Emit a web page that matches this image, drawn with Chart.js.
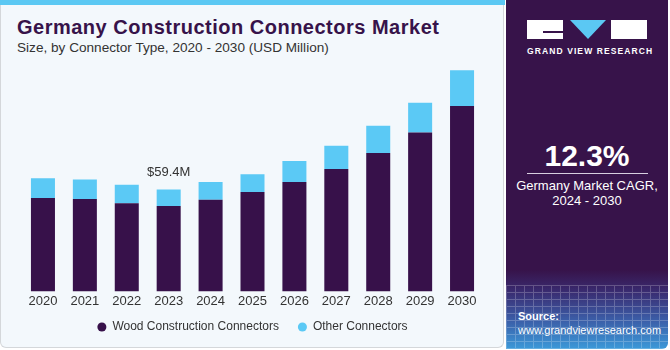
<!DOCTYPE html>
<html>
<head>
<meta charset="utf-8">
<script src="https://cdn.jsdelivr.net/npm/chart.js@4.4.0/dist/chart.umd.min.js"></script>
<style>
  body { margin: 0; width: 670px; height: 350px; background: #ffffff; font-family: "Liberation Sans", Arial, sans-serif; overflow: hidden; }
  #card { position: absolute; left: 0; top: 0; width: 504px; height: 348px; background: #f3f8fc; border: 1px solid #d4d7da; border-top: none; border-radius: 0 0 6px 6px; box-sizing: border-box; }
  #strip { position: absolute; left: 0; top: 0; width: 505px; height: 5px; background: #5bc8f3; }
  #title { position: absolute; left: 17px; top: 16px; font-size: 20px; letter-spacing: 0.5px; font-weight: bold; color: #37134a; white-space: nowrap; }
  #sub { position: absolute; left: 17px; top: 40px; font-size: 13.6px; color: #333; white-space: nowrap; }
  #wrap { position: absolute; left: 0; top: 20px; width: 500px; height: 340px; }
  #panel { position: absolute; left: 506px; top: 0; width: 162px; height: 349px; border-radius: 0 0 6px 0;
    background: linear-gradient(to bottom, #37134a 0px, #37134a 270px, #3a2a6e 290px, #3c5ea8 320px, #3d9ad9 349px); overflow: hidden; }
  #grid { position: absolute; left: 0; top: 285px; width: 162px; height: 64px; opacity: 0.22;
    background-image: linear-gradient(to right, #ffffff 1px, transparent 1px), linear-gradient(to bottom, #ffffff 1px, transparent 1px);
    background-size: 9px 7px; }
  .box { position: absolute; top: 20px; height: 19px; background: #ffffff; }
  #tri { position: absolute; left: 64px; top: 20px; width: 0; height: 0; border-left: 18px solid transparent; border-right: 18px solid transparent; border-top: 19px solid #5bc8f3; }
  #gvr { position: absolute; left: 21px; top: 46px; width: 120px; text-align: center; font-size: 8.5px; font-weight: bold; color: #fff; letter-spacing: 1.1px; white-space: nowrap; }
  #cagr { position: absolute; left: 0; top: 139px; width: 162px; text-align: center; font-size: 30px; font-weight: bold; color: #fff; }
  #line { position: absolute; left: 21px; top: 173px; width: 121px; height: 1px; background: #d8cfe0; }
  #cagrtxt { position: absolute; left: 0; top: 178px; width: 162px; text-align: center; font-size: 13px; color: #fff; line-height: 15px; }
  #src { position: absolute; left: 12px; top: 309px; font-size: 11px; color: #fff; line-height: 14px; }
</style>
</head>
<body>
<div id="card"></div>
<div id="strip"></div>
<div id="title">Germany Construction Connectors Market</div>
<div id="sub">Size, by Connector Type, 2020 - 2030 (USD Million)</div>
<div id="wrap"><canvas id="grafico"></canvas></div>
<div id="panel">
  <div class="box" style="left:21px;width:36px;"><div style="position:absolute;left:16px;top:11px;width:20px;height:2px;background:#37134a;"></div></div>
  <div id="tri"></div>
  <div class="box" style="left:105px;width:36px;"></div>
  <div id="gvr">GRAND VIEW RESEARCH</div>
  <div id="cagr">12.3%</div>
  <div id="line"></div>
  <div id="cagrtxt">Germany Market CAGR,<br>2024 - 2030</div>
  <div id="grid"></div>
  <div id="src"><b>Source:</b><br>www.grandviewresearch.com</div>
</div>
<script>
const years = ["2020", "2021", "2022", "2023", "2024", "2025", "2026", "2027", "2028", "2029", "2030"];
const wood = [54.4, 53.8, 51.3, 49.8, 53.4, 57.9, 63.7, 71.4, 80.6, 92.6, 108.0];
const other = [11.6, 11.4, 10.8, 9.6, 10.3, 10.4, 12.3, 13.5, 15.9, 17.4, 20.9];
const etiqueta = "$59.4M";
const idxEtiqueta = 3;

// etiqueta encima de la barra 2023
const etiquetaPlugin = {
  id: "etiqueta",
  afterLayout(chart) {
    // subir la leyenda un poco
    chart.legend.top -= 9;
    chart.legend.bottom -= 9;
  },
  afterDatasetsDraw(chart) {
    const meta = chart.getDatasetMeta(1);
    const bar = meta.data[idxEtiqueta];
    const ctx = chart.ctx;
    ctx.save();
    ctx.font = "13px 'Liberation Sans', Arial, sans-serif";
    ctx.fillStyle = "#333333";
    ctx.textAlign = "center";
    ctx.textBaseline = "middle";
    ctx.fillText(etiqueta, bar.x, bar.y - 17);
    ctx.restore();
  }
};

const ctx = document.getElementById("grafico").getContext("2d");
new Chart(ctx, {
  type: "bar",
  data: {
    labels: years,
    datasets: [
      { label: "Wood Construction Connectors", data: wood, backgroundColor: "#37114a" },
      { label: "Other Connectors", data: other, backgroundColor: "#5bc9f5" }
    ]
  },
  options: {
    responsive: true,
    maintainAspectRatio: false,
    animation: false,
    layout: { padding: { left: 22, right: 17, top: 14, bottom: 8 } },
    datasets: { bar: { barPercentage: 0.573, categoryPercentage: 1 } },
    plugins: {
      legend: {
        position: "bottom",
        labels: {
          usePointStyle: true,
          pointStyle: "circle",
          boxWidth: 9,
          boxHeight: 6.4,
          padding: 19,
          color: "#333333",
          font: { family: "'Liberation Sans', Arial, sans-serif", size: 12 }
        }
      },
      tooltip: { enabled: false }
    },
    scales: {
      x: {
        stacked: true,
        grid: { display: false, drawTicks: false },
        border: { display: false },
        ticks: { color: "#333333", padding: 2, font: { family: "'Liberation Sans', Arial, sans-serif", size: 13 } }
      },
      y: { stacked: true, display: false, min: 0, max: 150 }
    }
  },
  plugins: [etiquetaPlugin]
});
</script>
</body>
</html>
